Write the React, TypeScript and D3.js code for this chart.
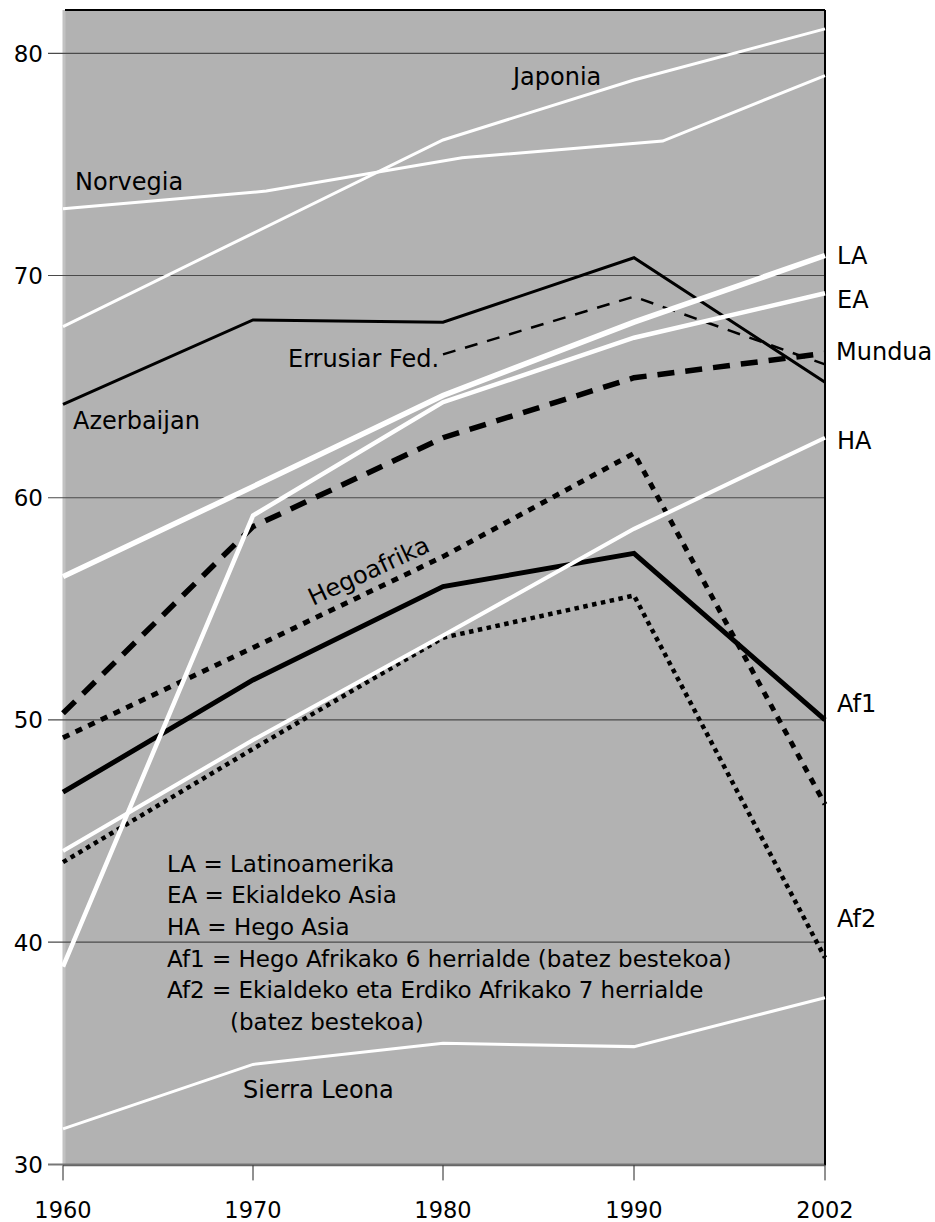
import React from "react";
import * as d3 from "d3";

const W = 935;
const H = 1222;

const years = [1960, 1970, 1980, 1990, 2002];
const tickYears = [1960, 1970, 1980, 1990, 2002];
const yTicks = [30, 40, 50, 60, 70, 80];
const norvegiaYears = [1960, 1970.7, 1981, 1991.8, 2002];

const japonia = [67.7, 71.9, 76.1, 78.8, 81.1];
const norvegia = [73.0, 73.8, 75.3, 76.05, 79.0];
const azerbaijan = [64.2, 68.0, 67.9, 70.8, 65.2];
const errusiarFed = [null, null, 66.45, 69.05, 66.0];
const latinoamerika = [56.45, 60.5, 64.6, 67.9, 70.9];
const ekialdekoAsia = [38.9, 59.2, 64.3, 67.2, 69.2];
const mundua = [50.3, 58.7, 62.7, 65.4, 66.5];
const hegoAsia = [44.1, 49.1, 53.8, 58.6, 62.7];
const hegoafrika = [49.2, 53.25, 57.35, 62.0, 46.2];
const af1 = [46.75, 51.8, 56.0, 57.5, 50.0];
const af2 = [43.6, 48.7, 53.7, 55.6, 39.3];
const sierraLeona = [31.6, 34.5, 35.45, 35.3, 37.5];

const legendLines = [
  "LA = Latinoamerika",
  "EA = Ekialdeko Asia",
  "HA = Hego Asia",
  "Af1 = Hego Afrikako 6 herrialde (batez bestekoa)",
  "Af2 = Ekialdeko eta Erdiko Afrikako 7 herrialde",
];
const legendCont = "(batez bestekoa)";

const x = d3.scaleLinear().domain([1960, 1970, 1980, 1990, 2002]).range([63, 253, 443, 634, 825]);
const y = d3.scaleLinear().domain([30, 80]).range([1164.4, 53.3]);

type S = {
  vals: (number | null)[];
  yrs?: number[];
  color: string;
  width: number;
  dash?: string;
};

const blackSeries: S[] = [
  { vals: azerbaijan, color: "#000", width: 3 },
  { vals: errusiarFed, color: "#000", width: 2.5, dash: "13 10" },
  { vals: mundua, color: "#000", width: 5.5, dash: "17 11" },
  { vals: hegoafrika, color: "#000", width: 5, dash: "7 7" },
  { vals: af1, color: "#000", width: 5 },
  { vals: af2, color: "#000", width: 4.5, dash: "4.5 4.5" },
];
const whiteSeries: S[] = [
  { vals: japonia, color: "#fff", width: 3 },
  { vals: norvegia, yrs: norvegiaYears, color: "#fff", width: 3 },
  { vals: sierraLeona, color: "#fff", width: 3 },
  { vals: hegoAsia, color: "#fff", width: 4 },
  { vals: ekialdekoAsia, color: "#fff", width: 4.5 },
  { vals: latinoamerika, color: "#fff", width: 5.5 },
];

function pathFor(s: S) {
  const yrs = s.yrs || years;
  const pts = s.vals
    .map((v, i) => (v == null ? null : ([yrs[i], v] as [number, number])))
    .filter((p) => p != null) as [number, number][];
  return d3
    .line<[number, number]>()
    .x((d) => x(d[0]))
    .y((d) => y(d[1]))(pts) as string;
}

const labelFont = "'DejaVu Sans', 'Liberation Sans', sans-serif";

export default function App() {
  const left = x(1960);
  const right = x(2002);
  const top = 10;
  const bottom = y(30) + 1;
  return (
    <svg
      width={W}
      height={H}
      style={{ position: "absolute", left: 0, top: 0, background: "#fff" }}
      fontFamily={labelFont}
    >
      <rect x={left} y={top} width={right - left} height={bottom - top} fill="#b2b2b2" />
      <line x1={left + 1} x2={left + 1} y1={top} y2={bottom} stroke="#c2c2c2" strokeWidth={3} />
      {/* grid & y ticks */}
      {yTicks.map((t) => (
        <g key={t}>
          <line x1={48} x2={right} y1={y(t)} y2={y(t)} stroke={t === 30 ? "#777" : "#4a4a4a"} strokeWidth={t === 30 ? 2 : 1.2} />
          <text x={43} y={y(t) + 8.5} textAnchor="end" fontSize={23} fill="#000">
            {t}
          </text>
        </g>
      ))}
      {/* top and right borders */}
      <line x1={left + 2} x2={right} y1={top} y2={top} stroke="#000" strokeWidth={2} />
      <line x1={right} x2={right} y1={top} y2={bottom} stroke="#000" strokeWidth={2} />
      {/* x axis */}
      <line x1={left} x2={right} y1={bottom} y2={bottom} stroke="#666" strokeWidth={1.5} />
      {tickYears.map((t) => (
        <g key={t}>
          <line x1={x(t)} x2={x(t)} y1={bottom} y2={bottom + 15} stroke="#222" strokeWidth={1} />
          <text x={x(t)} y={1218} textAnchor="middle" fontSize={22.5} fill="#000">
            {t}
          </text>
        </g>
      ))}
      {/* series */}
      {blackSeries.map((s, i) => (
        <path
          key={"b" + i}
          d={pathFor(s)}
          fill="none"
          stroke={s.color}
          strokeWidth={s.width}
          strokeDasharray={s.dash}
          strokeLinejoin="miter"
        />
      ))}
      {whiteSeries.map((s, i) => (
        <path
          key={"w" + i}
          d={pathFor(s)}
          fill="none"
          stroke={s.color}
          strokeWidth={s.width}
          strokeLinejoin="miter"
        />
      ))}
      {/* series labels */}
      <g fontSize={24} fill="#000">
        <text x={513} y={85}>Japonia</text>
        <text x={75} y={190}>Norvegia</text>
        <text x={73} y={429}>Azerbaijan</text>
        <text x={288} y={367}>Errusiar Fed.</text>
        <text x={243} y={1098}>Sierra Leona</text>
        <text x={313} y={606} transform="rotate(-25 313 606)">Hegoafrika</text>
        <text x={837} y={264}>LA</text>
        <text x={837} y={308}>EA</text>
        <text x={836} y={360}>Mundua</text>
        <text x={837} y={449}>HA</text>
        <text x={837} y={712}>Af1</text>
        <text x={837} y={927}>Af2</text>
      </g>
      {/* legend */}
      <g fontSize={23} fill="#000">
        {legendLines.map((l, i) => (
          <text key={i} x={167} y={871.7 + i * 31.6}>
            {l}
          </text>
        ))}
        <text x={230} y={871.7 + 5 * 31.6}>{legendCont}</text>
      </g>
    </svg>
  );
}
